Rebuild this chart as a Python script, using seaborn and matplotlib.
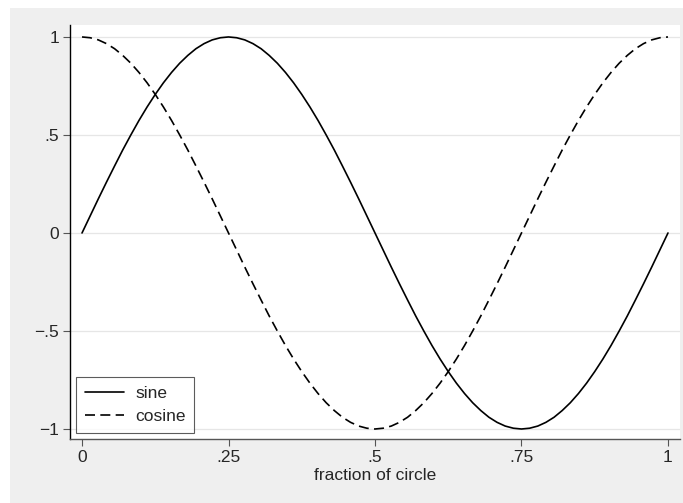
import matplotlib
matplotlib.use("Agg")
import matplotlib.pyplot as plt
import seaborn as sns
from matplotlib.patches import Rectangle

# fraction of circle (x, in 1/72 steps) and curve values
fraction = [0.0000, 0.0139, 0.0278, 0.0417, 0.0556, 0.0694, 0.0833, 0.0972, 0.1111, 0.1250,
            0.1389, 0.1528, 0.1667, 0.1806, 0.1944, 0.2083, 0.2222, 0.2361, 0.2500, 0.2639,
            0.2778, 0.2917, 0.3056, 0.3194, 0.3333, 0.3472, 0.3611, 0.3750, 0.3889, 0.4028,
            0.4167, 0.4306, 0.4444, 0.4583, 0.4722, 0.4861, 0.5000, 0.5139, 0.5278, 0.5417,
            0.5556, 0.5694, 0.5833, 0.5972, 0.6111, 0.6250, 0.6389, 0.6528, 0.6667, 0.6806,
            0.6944, 0.7083, 0.7222, 0.7361, 0.7500, 0.7639, 0.7778, 0.7917, 0.8056, 0.8194,
            0.8333, 0.8472, 0.8611, 0.8750, 0.8889, 0.9028, 0.9167, 0.9306, 0.9444, 0.9583,
            0.9722, 0.9861, 1.0000]
sine = [0.000, 0.087, 0.174, 0.259, 0.342, 0.423, 0.500, 0.574, 0.643, 0.707,
        0.766, 0.819, 0.866, 0.906, 0.940, 0.966, 0.985, 0.996, 1.000, 0.996,
        0.985, 0.966, 0.940, 0.906, 0.866, 0.819, 0.766, 0.707, 0.643, 0.574,
        0.500, 0.423, 0.342, 0.259, 0.174, 0.087, 0.000, -0.087, -0.174, -0.259,
        -0.342, -0.423, -0.500, -0.574, -0.643, -0.707, -0.766, -0.819, -0.866, -0.906,
        -0.940, -0.966, -0.985, -0.996, -1.000, -0.996, -0.985, -0.966, -0.940, -0.906,
        -0.866, -0.819, -0.766, -0.707, -0.643, -0.574, -0.500, -0.423, -0.342, -0.259,
        -0.174, -0.087, 0.000]
cosine = [1.000, 0.996, 0.985, 0.966, 0.940, 0.906, 0.866, 0.819, 0.766, 0.707,
          0.643, 0.574, 0.500, 0.423, 0.342, 0.259, 0.174, 0.087, 0.000, -0.087,
          -0.174, -0.259, -0.342, -0.423, -0.500, -0.574, -0.643, -0.707, -0.766, -0.819,
          -0.866, -0.906, -0.940, -0.966, -0.985, -0.996, -1.000, -0.996, -0.985, -0.966,
          -0.940, -0.906, -0.866, -0.819, -0.766, -0.707, -0.643, -0.574, -0.500, -0.423,
          -0.342, -0.259, -0.174, -0.087, 0.000, 0.087, 0.174, 0.259, 0.342, 0.423,
          0.500, 0.574, 0.643, 0.707, 0.766, 0.819, 0.866, 0.906, 0.940, 0.966,
          0.985, 0.996, 1.000]
xticks = [0, 0.25, 0.5, 0.75, 1]
xticklabels = ["0", ".25", ".5", ".75", "1"]
yticks = [-1, -0.5, 0, 0.5, 1]
yticklabels = ["\u22121", "\u2212.5", "0", ".5", "1"]

sns.set_style("white")
plt.rcParams["font.family"] = ["Liberation Sans", "DejaVu Sans"]

fig = plt.figure(figsize=(6.83, 5.03), dpi=100, facecolor="white")
bg = Rectangle((10 / 683, 0), 1 - 10 / 683, 1 - 8 / 503,
               transform=fig.transFigure, facecolor="#efefef",
               edgecolor="none", zorder=-10)
fig.add_artist(bg)
ax = fig.add_axes([70 / 683, 64 / 503, 610 / 683, 414 / 503])
ax.set_zorder(1)
ax.set_facecolor("white")

sns.lineplot(x=fraction, y=sine, ax=ax, color="black", lw=1.2, label="sine")
sns.lineplot(x=fraction, y=cosine, ax=ax, color="black", lw=1.2, label="cosine")
ax.lines[1].set_dashes([6, 3.2])

ax.set_xlim(-0.0205, 1.0205)
ax.set_ylim(-1.051, 1.061)
ax.set_xticks(xticks)
ax.set_xticklabels(xticklabels)
ax.set_yticks(yticks)
ax.set_yticklabels(yticklabels)
ax.tick_params(axis="both", direction="out", length=5, width=0.8, color="#555555",
               labelsize=12.5, pad=3, left=True, bottom=True)
for y in yticks:
    ax.axhline(y, color="#e6e6e6", lw=0.9, zorder=0)

for s in ["top", "right"]:
    ax.spines[s].set_visible(False)
ax.spines["left"].set_color("black")
ax.spines["left"].set_linewidth(1.0)
ax.spines["bottom"].set_color("#555555")
ax.spines["bottom"].set_linewidth(1.0)

ax.set_xlabel("fraction of circle", fontsize=12.5, labelpad=2)
ax.set_ylabel("")

leg = ax.legend(loc="lower left", frameon=True, fancybox=False, fontsize=12.5,
                edgecolor="#333333", handlelength=2.25, borderaxespad=0.35,
                borderpad=0.5, labelspacing=0.45, handletextpad=0.65)
leg.get_frame().set_linewidth(0.8)

fig.savefig("out.png", dpi=100, facecolor=fig.get_facecolor())
